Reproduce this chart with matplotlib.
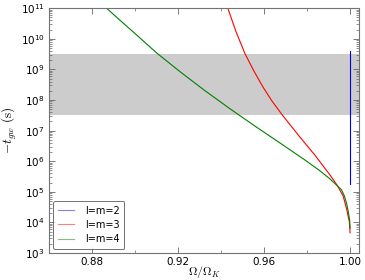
import numpy as np
import matplotlib
matplotlib.use('Agg')
import matplotlib.pyplot as plt
from matplotlib.ticker import MultipleLocator, LogLocator

# values (Omega/Omega_K, log10 of -t_gw in s)
omega_22 = [1.0, 1.0]
tgw_22 = [3.9e9, 1.8e5]

omega_33 = [0.94318, 0.94690, 0.95108, 0.95526, 0.95944, 0.96362, 0.96827,
            0.97663, 0.98360, 0.99057, 0.99382, 0.99675, 0.99847, 0.99963, 1.0]
logt_33 = [11.0, 10.246, 9.525, 8.951, 8.433, 7.974, 7.531,
           6.793, 6.203, 5.557, 5.23, 4.869, 4.41, 4.02, 3.66]

omega_44 = [0.88683, 0.89301, 0.89998, 0.91006, 0.92088, 0.93250, 0.94411,
            0.95573, 0.96734, 0.97895, 0.98592, 0.99057, 0.99382, 0.99600,
            0.99730, 0.99833, 0.99916, 0.99977, 1.0]
logt_44 = [11.0, 10.61, 10.177, 9.541, 8.931, 8.308, 7.718,
           7.151, 6.60, 6.043, 5.689, 5.426, 5.213, 5.066,
           4.869, 4.63, 4.344, 4.082, 3.81]

band = [3.15e7, 3.15e9]   # 1 yr .. 100 yr
labels = ['l=m=2', 'l=m=3', 'l=m=4']

plt.rcParams['mathtext.fontset'] = 'cm'
plt.rcParams['mathtext.default'] = 'it'

fig = plt.figure(figsize=(3.65, 2.8), dpi=100)
ax = fig.add_axes([0.134, 0.0964, 0.850, 0.874])

ax.axhspan(band[0], band[1], color='0.8', lw=0, zorder=0)
ax.plot(omega_22, tgw_22, color='b', lw=0.8, label=labels[0])
ax.plot(omega_33, 10 ** np.array(logt_33), color='r', lw=0.8, label=labels[1])
ax.plot(omega_44, 10 ** np.array(logt_44), color='g', lw=0.8, label=labels[2])

ax.set_yscale('log')
ax.set_xlim(0.86, 1.0042)
ax.set_ylim(1e3, 1e11)
ax.set_xticks([0.88, 0.92, 0.96, 1.00])
ax.set_xticklabels(['0.88', '0.92', '0.96', '1.00'])
ax.xaxis.set_minor_locator(MultipleLocator(0.02))
ax.yaxis.set_major_locator(LogLocator(base=10, numticks=20))
ax.yaxis.set_minor_locator(LogLocator(base=10, subs=np.arange(2, 10), numticks=20))

ax.tick_params(which='both', direction='in', top=True, right=True,
               labelsize=7.5, color='0.4', pad=3)
ax.tick_params(which='major', length=4, width=0.6)
ax.tick_params(which='minor', length=2, width=0.5)
for s in ax.spines.values():
    s.set_color('0.45')
    s.set_linewidth(0.8)

ax.set_xlabel(r'$\Omega/\Omega_K$', fontsize=8.5, labelpad=-2)
ax.set_ylabel(r'$-t_{gw}$ $\mathrm{(s)}$', fontsize=9.5, labelpad=1)

leg = ax.legend(loc='lower left', fontsize=7, handlelength=1.7,
                handletextpad=1.1, borderpad=0.5, fancybox=True,
                borderaxespad=0.4, labelspacing=0.45)
leg.get_frame().set_edgecolor('0.3')
leg.get_frame().set_linewidth(0.7)
for h in leg.get_lines():
    h.set_alpha(0.5)

fig.savefig('out.png', dpi=100, facecolor='white')
